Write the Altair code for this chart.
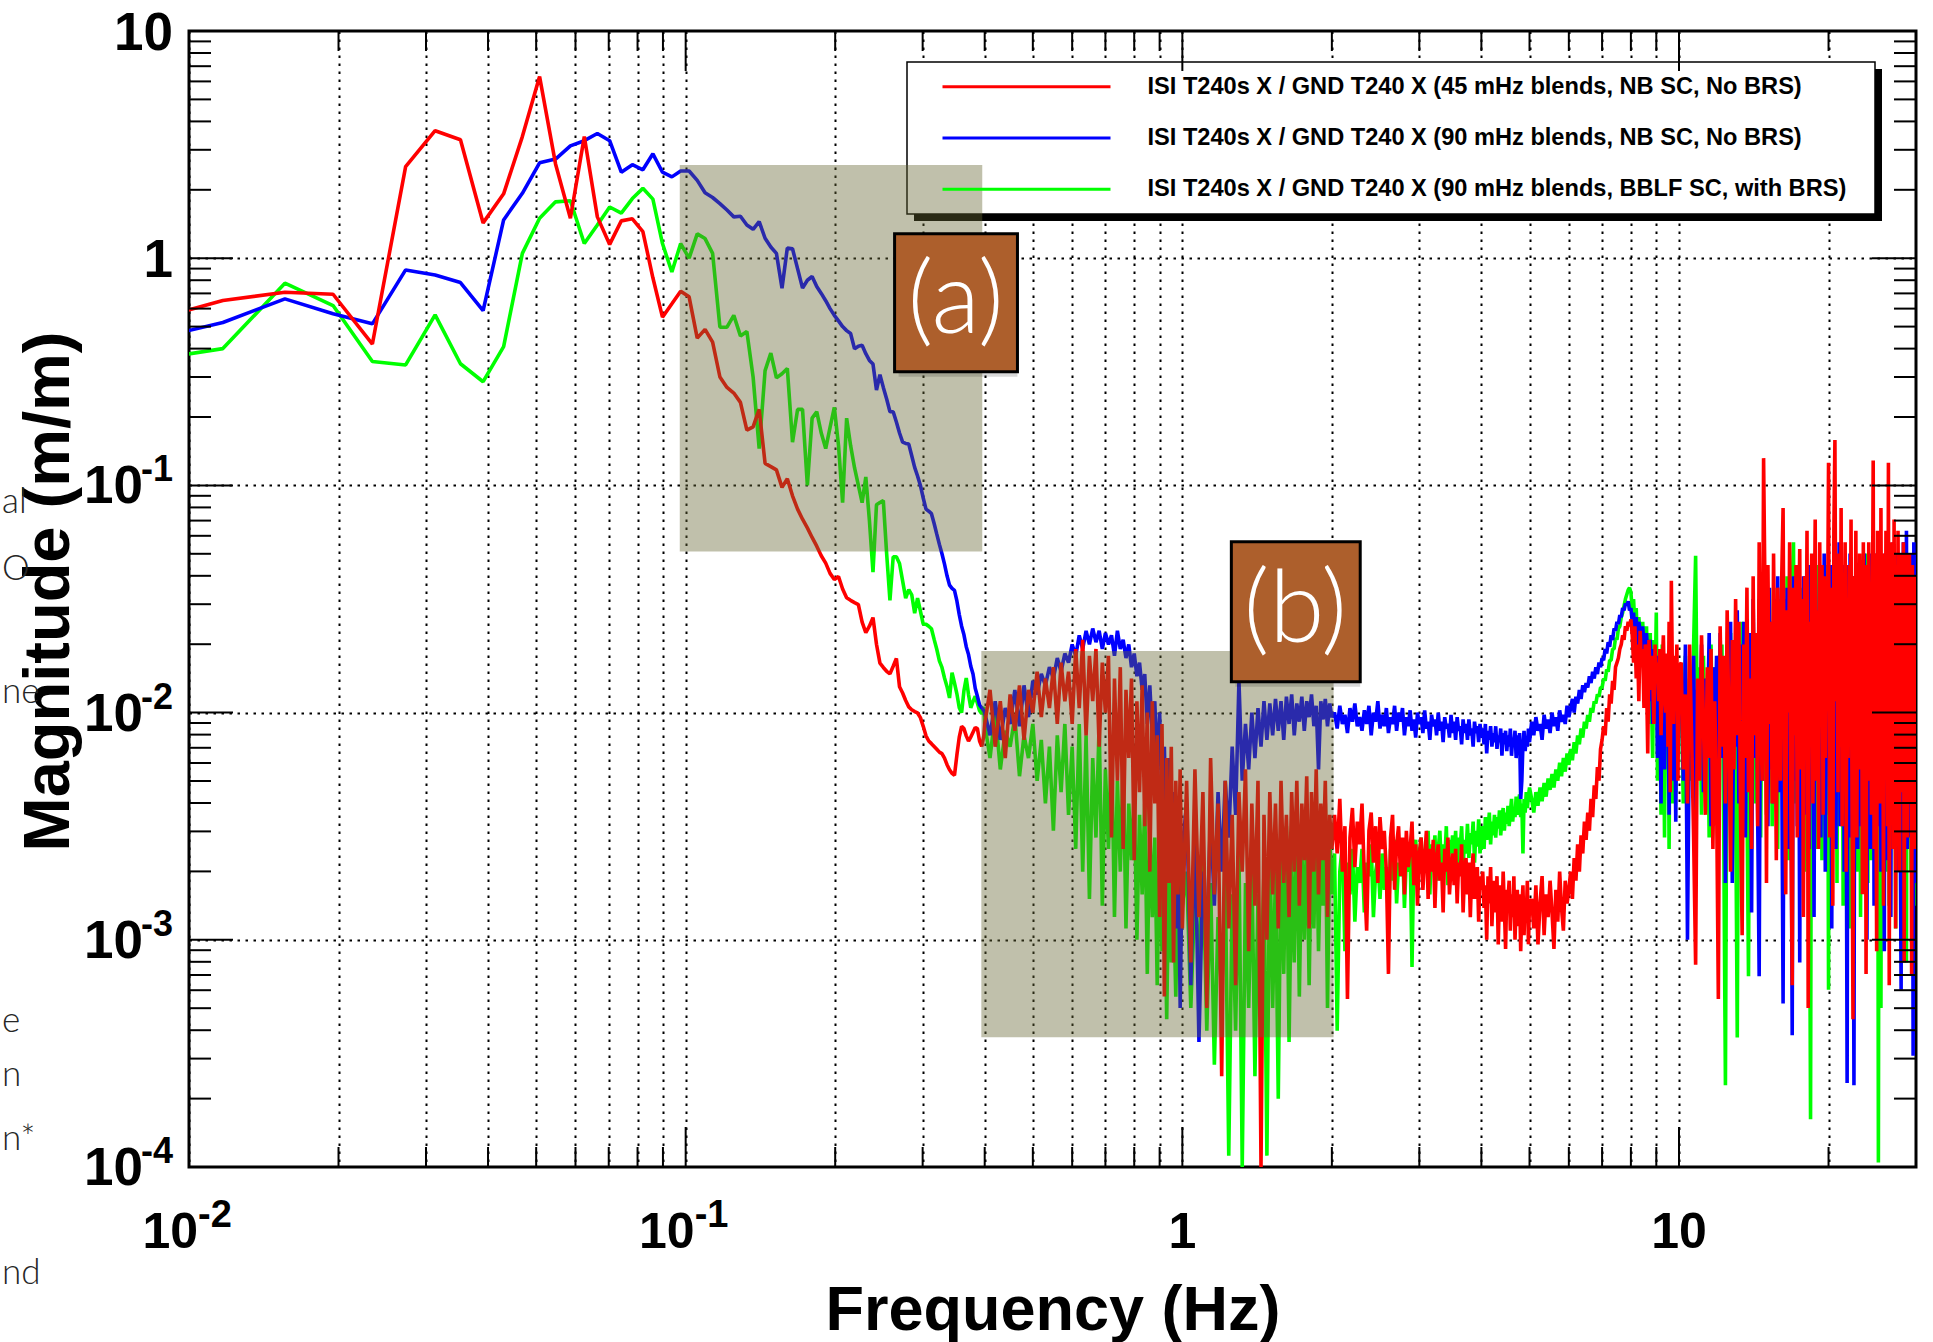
import altair as alt
import pandas as pd

W, H = 1727, 1136

# ---------------- data ----------------
series_names = [
    "ISI T240s X / GND T240 X (45 mHz blends, NB SC, No BRS)",
    "ISI T240s X / GND T240 X (90 mHz blends, NB SC, No BRS)",
    "ISI T240s X / GND T240 X (90 mHz blends, BBLF SC, with BRS)",
]
series_colors = ["#ff0000", "#0000ff", "#00ff00"]

# low-frequency part (resolved bins, Hz) and magnitudes (m/m)
freq_lo = [0.0078, 0.0117, 0.0156, 0.0195, 0.0234, 0.0273, 0.0313, 0.0352, 0.0391, 0.0430,
           0.0469, 0.0508, 0.0547, 0.0586, 0.0625, 0.0664, 0.0703, 0.0742, 0.0781, 0.0820,
           0.0859, 0.0898, 0.0938, 0.0977, 0.1016, 0.1055, 0.1094, 0.1133, 0.1172, 0.1211,
           0.1250, 0.1289, 0.1328, 0.1367, 0.1406, 0.1445, 0.1484, 0.1523, 0.1563, 0.1602,
           0.1641, 0.1680, 0.1719, 0.1758, 0.1797, 0.1836, 0.1875, 0.1914, 0.1953, 0.1992,
           0.2031, 0.2070, 0.2109, 0.2148, 0.2188, 0.2227, 0.2266, 0.2305, 0.2344, 0.2383,
           0.2422, 0.2461, 0.2500, 0.2539, 0.2578, 0.2617, 0.2656, 0.2695, 0.2734, 0.2773,
           0.2813, 0.2852, 0.2891, 0.2930, 0.2969, 0.3008, 0.3047, 0.3086, 0.3125, 0.3164,
           0.3203, 0.3242, 0.3281, 0.3320, 0.3359, 0.3398, 0.3438, 0.3477, 0.3516, 0.3555,
           0.3594, 0.3633, 0.3672, 0.3711, 0.3750, 0.3789, 0.3828, 0.3867, 0.3906, 0.3945,
           0.3984]

red_lo = [0.511, 0.651, 0.708, 0.694, 0.419, 2.53, 3.64, 3.32, 1.43, 1.92,
          3.43, 6.3, 2.6, 1.5, 3.43, 1.52, 1.15, 1.46, 1.49, 1.31,
          0.82, 0.55, 0.63, 0.716, 0.676, 0.445, 0.486, 0.427, 0.30, 0.27,
          0.255, 0.232, 0.175, 0.181, 0.216, 0.125, 0.121, 0.117, 0.098, 0.107,
          0.09, 0.0786, 0.071, 0.065, 0.059, 0.054, 0.049, 0.0455, 0.041, 0.0385,
          0.0397, 0.035, 0.032, 0.0312, 0.0305, 0.0299, 0.025, 0.0225, 0.024, 0.0262,
          0.02, 0.0165, 0.0158, 0.0152, 0.0148, 0.016, 0.0173, 0.013, 0.0122, 0.0113,
          0.0106, 0.0103, 0.0101, 0.00996, 0.0095, 0.0087, 0.0079, 0.0075, 0.0073, 0.0071,
          0.0069, 0.0067, 0.0066, 0.0063, 0.0059, 0.0056, 0.0054, 0.0053, 0.0065, 0.0078,
          0.0087, 0.0085, 0.0079, 0.0075, 0.0078, 0.0082, 0.0086, 0.0085, 0.0075, 0.0071,
          0.0079]

blue_lo = [0.423, 0.521, 0.662, 0.569, 0.514, 0.888, 0.844, 0.781, 0.588, 1.474,
           1.93, 2.63, 2.73, 3.12, 3.29, 3.54, 3.29, 2.39, 2.58, 2.45,
           2.88, 2.39, 2.28, 2.42, 2.42, 2.2, 1.94, 1.85, 1.74, 1.63,
           1.52, 1.53, 1.40, 1.34, 1.45, 1.224, 1.12, 1.05, 0.738, 1.11,
           1.10, 0.9, 0.738, 0.80, 0.831, 0.75, 0.70, 0.65, 0.60, 0.56,
           0.53, 0.50, 0.48, 0.466, 0.399, 0.41, 0.4135, 0.38, 0.355, 0.342,
           0.263, 0.307, 0.27, 0.24, 0.211, 0.211, 0.19, 0.17, 0.155, 0.153,
           0.152, 0.135, 0.12, 0.11, 0.10, 0.088, 0.0786, 0.077, 0.0751, 0.068,
           0.061, 0.055, 0.05, 0.045, 0.04, 0.0364, 0.0352, 0.0345, 0.031, 0.027,
           0.024, 0.022, 0.0195, 0.018, 0.016, 0.0148, 0.0128, 0.0118, 0.0108, 0.0105,
           0.0102]

green_lo = [0.349, 0.400, 0.776, 0.619, 0.351, 0.339, 0.563, 0.343, 0.286, 0.408,
            1.05, 1.50, 1.77, 1.79, 1.16, 1.40, 1.68, 1.58, 1.83, 2.03,
            1.82, 1.16, 0.869, 1.16, 1.0, 1.28, 1.22, 1.05, 0.497, 0.497,
            0.56, 0.455, 0.476, 0.30, 0.1453, 0.32, 0.382, 0.2973, 0.31, 0.327,
            0.155, 0.216, 0.216, 0.1, 0.1977, 0.211, 0.17, 0.1453, 0.18, 0.2205,
            0.15, 0.0839, 0.1977, 0.15, 0.1193, 0.10, 0.0839, 0.109, 0.07, 0.0415,
            0.0821, 0.084, 0.0857, 0.05, 0.0312, 0.0485, 0.0485, 0.0453, 0.038, 0.0319,
            0.0348, 0.033, 0.0274, 0.0319, 0.028, 0.0245, 0.0245, 0.024, 0.0234, 0.021,
            0.019, 0.0169, 0.0158, 0.0142, 0.013, 0.0116, 0.0150, 0.0135, 0.0121, 0.0105,
            0.0100, 0.0125, 0.0142, 0.012, 0.0105, 0.0112, 0.0118, 0.011, 0.0102, 0.0099,
            0.0106]

# ---- noisy part, in five frequency segments; magnitudes as log10 readings ----
freq_s1 = [0.40, 0.41, 0.42, 0.43, 0.44, 0.45, 0.46, 0.47, 0.48, 0.49,
           0.50, 0.51, 0.52, 0.53, 0.54, 0.55, 0.56, 0.57, 0.58, 0.59,
           0.60, 0.61, 0.62, 0.63, 0.64, 0.65, 0.66, 0.67, 0.68, 0.69,
           0.70, 0.71, 0.72, 0.73, 0.74, 0.75, 0.76, 0.77, 0.78, 0.79,
           0.80, 0.81, 0.82, 0.83, 0.84, 0.85, 0.86, 0.87, 0.88, 0.89,
           0.90, 0.91, 0.92, 0.93, 0.94, 0.95, 0.96, 0.97, 0.98, 0.99,
           1.00]
freq_s2 = [1.02, 1.04, 1.06, 1.08, 1.10, 1.12, 1.14, 1.16, 1.18, 1.20,
           1.22, 1.24, 1.26, 1.28, 1.30, 1.32, 1.34, 1.36, 1.38, 1.40,
           1.42, 1.44, 1.46, 1.48, 1.50, 1.52, 1.54, 1.56, 1.58, 1.60,
           1.62, 1.64, 1.66, 1.68, 1.70, 1.72, 1.74, 1.76, 1.78, 1.80,
           1.82, 1.84, 1.86, 1.88, 1.90, 1.92, 1.94, 1.96, 1.98, 2.00]
freq_s3 = [2.025, 2.05, 2.075, 2.1, 2.125, 2.15, 2.175, 2.2, 2.225, 2.25,
           2.275, 2.3, 2.325, 2.35, 2.375, 2.4, 2.425, 2.45, 2.475, 2.5,
           2.525, 2.55, 2.575, 2.6, 2.625, 2.65, 2.675, 2.7, 2.725, 2.75,
           2.775, 2.8, 2.825, 2.85, 2.875, 2.9, 2.925, 2.95, 2.975, 3.0,
           3.025, 3.05, 3.075, 3.1, 3.125, 3.15, 3.175, 3.2, 3.225, 3.25,
           3.275, 3.3, 3.325, 3.35, 3.375, 3.4, 3.425, 3.45, 3.475, 3.5,
           3.525, 3.55, 3.575, 3.6, 3.625, 3.65, 3.675, 3.7, 3.725, 3.75,
           3.775, 3.8, 3.825, 3.85, 3.875, 3.9, 3.925, 3.95, 3.975, 4.0,
           4.025, 4.05, 4.075, 4.1, 4.125, 4.15, 4.175, 4.2, 4.225, 4.25,
           4.275, 4.3, 4.325, 4.35, 4.375, 4.4, 4.425, 4.45, 4.475, 4.5,
           4.525, 4.55, 4.575, 4.6, 4.625, 4.65, 4.675, 4.7, 4.725, 4.75,
           4.775, 4.8, 4.825, 4.85, 4.875, 4.9, 4.925, 4.95, 4.975, 5.0]
freq_s4 = [5.05, 5.1, 5.15, 5.2, 5.25, 5.3, 5.35, 5.4, 5.45, 5.5,
           5.55, 5.6, 5.65, 5.7, 5.75, 5.8, 5.85, 5.9, 5.95, 6.0,
           6.05, 6.1, 6.15, 6.2, 6.25, 6.3, 6.35, 6.4, 6.45, 6.5,
           6.55, 6.6, 6.65, 6.7, 6.75, 6.8, 6.85, 6.9, 6.95, 7.0,
           7.05, 7.1, 7.15, 7.2, 7.25, 7.3, 7.35, 7.4, 7.45, 7.5,
           7.55, 7.6, 7.65, 7.7, 7.75, 7.8, 7.85, 7.9, 7.95, 8.0,
           8.05, 8.1, 8.15, 8.2, 8.25, 8.3, 8.35, 8.4, 8.45, 8.5,
           8.55, 8.6, 8.65, 8.7, 8.75, 8.8, 8.85, 8.9, 8.95, 9.0,
           9.05, 9.1, 9.15, 9.2, 9.25, 9.3, 9.35, 9.4, 9.45, 9.5,
           9.55, 9.6, 9.65, 9.7, 9.75, 9.8, 9.85, 9.9, 9.95, 10.0]
freq_s5 = [10.1, 10.2, 10.3, 10.4, 10.5, 10.6, 10.7, 10.8, 10.9, 11.0,
           11.1, 11.2, 11.3, 11.4, 11.5, 11.6, 11.7, 11.8, 11.9, 12.0,
           12.1, 12.2, 12.3, 12.4, 12.5, 12.6, 12.7, 12.8, 12.9, 13.0,
           13.1, 13.2, 13.3, 13.4, 13.5, 13.6, 13.7, 13.8, 13.9, 14.0,
           14.1, 14.2, 14.3, 14.4, 14.5, 14.6, 14.7, 14.8, 14.9, 15.0,
           15.1, 15.2, 15.3, 15.4, 15.5, 15.6, 15.7, 15.8, 15.9, 16.0,
           16.1, 16.2, 16.3, 16.4, 16.5, 16.6, 16.7, 16.8, 16.9, 17.0,
           17.1, 17.2, 17.3, 17.4, 17.5, 17.6, 17.7, 17.8, 17.9, 18.0,
           18.1, 18.2, 18.3, 18.4, 18.5, 18.6, 18.7, 18.8, 18.9, 19.0,
           19.1, 19.2, 19.3, 19.4, 19.5, 19.6, 19.7, 19.8, 19.9, 20.0,
           20.1, 20.2, 20.3, 20.4, 20.5, 20.6, 20.7, 20.8, 20.9, 21.0,
           21.1, 21.2, 21.3, 21.4, 21.5, 21.6, 21.7, 21.8, 21.9, 22.0,
           22.1, 22.2, 22.3, 22.4, 22.5, 22.6, 22.7, 22.8, 22.9, 23.0,
           23.1, 23.2, 23.3, 23.4, 23.5, 23.6, 23.7, 23.8, 23.9, 24.0,
           24.1, 24.2, 24.3, 24.4, 24.5, 24.6, 24.7, 24.8, 24.9, 25.0,
           25.1, 25.2, 25.3, 25.4, 25.5, 25.6, 25.7, 25.8, 25.9, 26.0,
           26.1, 26.2, 26.3, 26.4, 26.5, 26.6, 26.7, 26.8, 26.9, 27.0,
           27.1, 27.2, 27.3, 27.4, 27.5, 27.6, 27.7, 27.8, 27.9, 28.0,
           28.1, 28.2, 28.3, 28.4, 28.5, 28.6, 28.7, 28.8, 28.9, 29.0,
           29.1, 29.2, 29.3, 29.4, 29.5, 29.6, 29.7, 29.8, 29.9, 30.0]

red_s1 = [-2.05, -1.90, -2.15, -1.95, -2.20, -1.92, -2.08, -1.88, -2.12, -1.90,
          -2.00, -1.82, -2.02, -1.85, -1.98, -1.80, -2.05, -1.78, -1.95, -1.82,
          -2.05, -1.72, -1.98, -1.68, -2.10, -1.75, -1.95, -1.72, -2.15, -1.78,
          -2.00, -1.75, -2.55, -1.85, -2.30, -1.80, -2.60, -1.90, -2.20, -1.85,
          -2.65, -1.95, -2.35, -1.88, -2.50, -2.00, -2.70, -1.95, -2.40, -2.10,
          -2.90, -2.05, -3.25, -2.20, -2.75, -2.15, -3.10, -2.30, -2.80, -2.25,
          -2.95]
red_s2 = [-2.30, -3.10, -2.25, -2.90, -2.35, -3.30, -2.20, -2.80, -2.40, -3.60,
          -2.30, -2.95, -2.45, -3.20, -2.35, -2.70, -2.25, -3.05, -2.40, -2.85,
          -2.30, -4.00, -2.45, -3.00, -2.35, -2.80, -2.40, -2.95, -2.30, -2.75,
          -2.45, -2.90, -2.35, -2.70, -2.30, -2.85, -2.40, -2.65, -2.28, -2.95,
          -2.35, -2.70, -2.25, -2.80, -2.40, -2.65, -2.30, -2.90, -2.45, -2.60]
red_s3 = [-2.45, -2.62, -2.38, -2.70, -2.50, -3.26, -2.55, -2.42, -2.68, -2.48,
          -2.58, -2.40, -2.72, -2.96, -2.52, -2.44, -2.66, -2.50, -2.75, -2.46,
          -2.60, -2.52, -2.70, -3.15, -2.55, -2.45, -2.78, -2.58, -2.50, -2.72,
          -2.55, -2.80, -2.52, -2.68, -2.60, -2.48, -2.76, -2.58, -2.85, -2.62,
          -2.55, -2.78, -2.64, -2.52, -2.82, -2.60, -2.70, -2.56, -2.86, -2.64,
          -2.58, -2.74, -2.66, -2.88, -2.60, -2.70, -2.55, -2.80, -2.68, -2.62,
          -2.76, -2.60, -2.84, -2.66, -2.72, -2.58, -2.88, -2.70, -2.64, -2.80,
          -2.66, -2.90, -2.70, -2.62, -2.82, -2.74, -2.68, -2.92, -2.72, -2.78,
          -2.70, -2.86, -2.76, -3.00, -2.72, -2.84, -2.68, -2.94, -2.78, -2.74,
          -2.88, -2.72, -3.02, -2.80, -2.76, -2.92, -2.70, -2.86, -3.04, -2.78,
          -2.82, -2.74, -2.96, -2.80, -2.90, -2.72, -3.00, -2.84, -2.78, -2.94,
          -2.80, -3.05, -2.86, -2.76, -2.98, -2.82, -2.90, -2.74, -3.02, -2.84]
red_s4 = [-2.82, -2.95, -2.76, -3.02, -2.84, -2.72, -2.98, -2.80, -2.90, -2.74,
          -2.88, -3.04, -2.78, -2.92, -2.70, -2.86, -2.96, -2.74, -2.84, -2.78,
          -2.70, -2.82, -2.64, -2.74, -2.58, -2.70, -2.54, -2.62, -2.48, -2.56,
          -2.44, -2.52, -2.38, -2.46, -2.32, -2.38, -2.24, -2.30, -2.16, -2.12,
          -2.06, -2.10, -1.98, -2.04, -1.92, -1.96, -1.86, -1.90, -1.80, -1.78,
          -1.76, -1.72, -1.70, -1.66, -1.68, -1.62, -1.64, -1.60, -1.62, -1.59,
          -1.66, -1.78, -1.62, -1.85, -1.70, -1.95, -1.64, -1.80, -1.72, -1.98,
          -1.70, -1.84, -2.18, -1.68, -1.90, -1.75, -1.82, -2.05, -1.70, -1.86,
          -1.78, -1.95, -1.72, -2.10, -1.80, -1.66, -1.92, -2.00, -1.74, -2.15,
          -1.60, -2.35, -1.42, -1.85, -2.05, -1.75, -1.95, -1.70, -2.30, -1.80]
red_s5 = [-1.78, -2.25, -1.92, -2.40, -1.70, -2.10, -2.55, -3.11, -1.85, -2.30,
          -1.66, -2.05, -2.45, -1.80, -2.20, -1.72, -2.60, -1.95, -2.35, -3.26,
          -1.62, -2.15, -1.75, -2.40, -1.55, -2.05, -2.70, -1.68, -2.25, -1.50,
          -2.10, -1.60, -2.45, -2.98, -1.70, -2.20, -1.45, -2.35, -1.85, -2.60,
          -1.40, -2.10, -1.65, -2.50, -1.25, -1.95, -2.30, -0.88, -1.50, -2.75,
          -1.35, -2.05, -1.60, -2.40, -1.30, -1.95, -2.65, -1.45, -1.80, -2.30,
          -1.40, -1.10, -2.20, -2.80, -1.55, -2.00, -1.25, -2.45, -3.20, -1.45,
          -2.10, -1.35, -2.55, -1.70, -1.28, -2.25, -1.50, -2.90, -1.40, -2.05,
          -1.20, -3.30, -1.60, -2.15, -1.30, -2.40, -1.75, -1.15, -2.30, -1.55,
          -2.60, -1.25, -1.90, -1.35, -2.45, -1.40, -2.20, -1.55, -1.70, -0.90,
          -2.55, -2.10, -1.45, -2.85, -1.20, -0.80, -1.95, -1.60, -2.35, -1.30,
          -2.15, -1.10, -2.50, -1.45, -1.90, -1.25, -2.70, -1.50, -2.20, -1.35,
          -1.95, -1.15, -2.40, -3.35, -1.40, -2.05, -1.20, -2.55, -1.60, -2.25,
          -1.30, -2.00, -1.50, -2.80, -1.25, -2.15, -1.45, -3.15, -1.35, -2.30,
          -1.25, -1.95, -1.55, -2.45, -1.70, -0.89, -2.60, -1.30, -2.10, -3.05,
          -1.20, -1.90, -1.45, -2.40, -1.10, -2.15, -1.60, -2.85, -1.30, -2.00,
          -1.20, -1.75, -2.50, -0.90, -3.20, -1.50, -1.25, -2.05, -1.35, -2.60,
          -1.15, -1.95, -2.95, -1.40, -2.20, -1.20, -1.85, -2.70, -1.30, -2.10,
          -1.45, -2.35, -1.25, -3.10, -1.60, -2.00, -1.30, -2.55, -1.50, -2.15,
          -1.30, -2.40, -1.45, -3.15, -1.35, -2.05, -1.55, -2.60, -1.40, -2.25]

blue_s1 = [-2.00, -2.10, -1.95, -2.12, -1.98, -2.05, -1.90, -2.06, -1.88, -2.02,
           -1.86, -1.92, -1.83, -1.88, -1.80, -1.85, -1.76, -1.82, -1.74, -1.78,
           -1.70, -1.75, -1.66, -1.72, -1.64, -1.70, -1.63, -1.69, -1.64, -1.72,
           -1.65, -1.70, -1.66, -1.75, -1.64, -1.72, -1.68, -1.76, -1.70, -1.80,
           -1.74, -1.84, -1.78, -1.90, -1.83, -2.05, -1.88, -2.10, -1.95, -2.25,
           -2.00, -2.40, -2.15, -2.60, -2.20, -2.75, -2.35, -2.95, -2.45, -3.30,
           -2.60]
blue_s2 = [-2.40, -3.20, -2.50, -3.45, -2.70, -3.00, -2.45, -2.85, -2.35, -2.70,
           -2.30, -2.55, -2.15, -2.45, -1.86, -2.30, -2.05, -2.25, -2.00, -2.20,
           -1.98, -2.15, -1.95, -2.12, -1.96, -2.10, -1.94, -2.08, -1.95, -2.12,
           -1.93, -2.05, -1.92, -2.10, -1.96, -2.04, -1.93, -2.08, -1.95, -2.02,
           -1.92, -2.06, -1.97, -2.25, -1.95, -2.03, -1.94, -2.06, -1.96, -2.02]
blue_s3 = [-2.00, -2.07, -1.97, -2.05, -2.01, -2.09, -1.98, -2.04, -1.96, -2.06,
           -2.02, -2.08, -1.99, -2.05, -1.97, -2.10, -2.00, -2.04, -1.95, -2.07,
           -2.01, -2.06, -1.98, -2.09, -2.02, -2.05, -1.97, -2.08, -2.00, -2.04,
           -1.98, -2.10, -2.02, -2.06, -1.99, -2.08, -2.03, -2.11, -2.00, -2.05,
           -2.02, -2.09, -1.99, -2.07, -2.04, -2.12, -2.01, -2.06, -2.03, -2.10,
           -2.00, -2.08, -2.04, -2.13, -2.02, -2.07, -2.05, -2.11, -2.01, -2.09,
           -2.04, -2.12, -2.02, -2.08, -2.06, -2.14, -2.03, -2.09, -2.05, -2.12,
           -2.03, -2.10, -2.07, -2.15, -2.04, -2.09, -2.06, -2.13, -2.05, -2.11,
           -2.07, -2.14, -2.05, -2.18, -2.08, -2.12, -2.06, -2.15, -2.09, -2.13,
           -2.06, -2.16, -2.10, -2.13, -2.07, -2.19, -2.09, -2.14, -2.08, -2.17,
           -2.10, -2.15, -2.07, -2.19, -2.11, -2.14, -2.08, -2.20, -2.10, -2.16,
           -2.09, -2.38, -2.30, -2.14, -2.08, -2.17, -2.11, -2.15, -2.07, -2.13]
blue_s4 = [-2.04, -2.10, -2.02, -2.08, -2.05, -2.12, -2.01, -2.07, -2.03, -2.09,
           -2.00, -2.06, -2.02, -2.08, -1.99, -2.04, -2.01, -2.05, -1.97, -2.02,
           -1.98, -1.94, -2.00, -1.93, -1.96, -1.90, -1.94, -1.88, -1.91, -1.87,
           -1.89, -1.84, -1.87, -1.82, -1.85, -1.80, -1.83, -1.78, -1.80, -1.76,
           -1.77, -1.72, -1.74, -1.69, -1.71, -1.66, -1.68, -1.63, -1.64, -1.60,
           -1.61, -1.57, -1.58, -1.54, -1.55, -1.52, -1.53, -1.51, -1.55, -1.54,
           -1.60, -1.56, -1.66, -1.58, -1.72, -1.60, -1.64, -1.78, -1.62, -1.70,
           -1.85, -1.65, -1.75, -1.95, -1.68, -1.80, -2.05, -1.72, -1.90, -1.75,
           -2.20, -1.78, -1.95, -2.40, -1.74, -1.88, -2.25, -1.80, -2.10, -1.76,
           -2.45, -1.85, -2.00, -2.30, -1.82, -1.95, -2.48, -1.86, -2.10, -1.90]
blue_s5 = [-1.85, -2.30, -1.70, -3.00, -1.95, -2.20, -1.75, -2.45, -1.90, -2.15,
           -1.70, -2.35, -1.85, -2.10, -1.65, -2.50, -1.80, -2.25, -1.75, -2.40,
           -1.65, -2.20, -1.80, -2.75, -1.70, -2.30, -1.60, -2.75, -1.85, -2.15,
           -1.55, -2.40, -1.70, -2.25, -1.60, -2.55, -1.75, -2.30, -1.65, -2.88,
           -1.50, -2.20, -1.65, -2.45, -3.16, -1.55, -2.30, -1.45, -2.15, -1.60,
           -2.50, -1.45, -2.25, -1.60, -2.40, -1.50, -2.10, -1.40, -2.35, -1.55,
           -2.20, -3.28, -1.50, -2.35, -1.45, -2.60, -1.55, -2.15, -3.42, -1.40,
           -2.30, -1.55, -2.50, -1.45, -3.10, -1.60, -2.20, -1.40, -2.45, -1.50,
           -2.25, -1.35, -2.60, -1.50, -2.15, -1.45, -2.90, -1.40, -2.30, -1.55,
           -2.10, -1.35, -2.55, -1.45, -2.30, -1.30, -2.70, -1.50, -2.20, -1.40,
           -2.45, -1.35, -2.95, -1.45, -2.20, -1.30, -2.60, -1.40, -2.35, -1.25,
           -2.50, -1.40, -2.25, -1.35, -2.70, -1.45, -2.15, -3.63, -1.35, -2.40,
           -1.30, -2.55, -1.45, -2.20, -3.64, -1.40, -2.35, -1.34, -2.60, -1.45,
           -2.25, -1.35, -2.50, -1.40, -2.75, -1.30, -2.20, -1.45, -3.00, -1.35,
           -2.40, -1.30, -2.60, -1.45, -2.25, -1.35, -2.85, -1.40, -2.15, -1.30,
           -2.50, -1.25, -2.35, -1.40, -2.70, -1.35, -2.20, -1.45, -3.05, -1.30,
           -2.45, -1.35, -2.65, -1.30, -2.25, -1.45, -2.90, -1.35, -2.40, -1.25,
           -2.55, -1.35, -2.20, -1.30, -2.70, -1.40, -2.35, -1.30, -2.60, -3.22,
           -1.30, -2.45, -1.25, -2.80, -1.35, -2.25, -1.20, -2.60, -1.40, -2.30,
           -1.35, -2.55, -1.30, -2.20, -1.45, -3.51, -1.25, -2.40, -1.30, -2.75]

green_s1 = [-2.05, -2.20, -2.00, -2.25, -2.08, -2.15, -2.02, -2.28, -2.10, -2.20,
            -2.05, -2.30, -2.12, -2.40, -2.15, -2.52, -2.10, -2.35, -2.05, -2.45,
            -2.15, -2.60, -2.05, -2.70, -2.10, -2.82, -2.20, -2.55, -2.05, -2.85,
            -2.25, -2.60, -2.10, -2.90, -2.30, -2.70, -2.20, -2.95, -2.40, -2.65,
            -2.35, -3.00, -2.45, -2.80, -2.40, -3.15, -2.50, -2.90, -2.55, -3.20,
            -2.60, -3.05, -2.70, -3.35, -2.65, -3.10, -2.80, -3.25, -2.75, -3.00,
            -2.85]
green_s2 = [-2.70, -3.30, -2.80, -3.10, -2.65, -3.40, -2.75, -3.55, -2.90, -3.25,
            -2.70, -3.95, -2.80, -3.40, -2.60, -4.00, -2.75, -3.30, -2.65, -3.60,
            -2.80, -3.20, -2.70, -3.95, -2.55, -3.30, -2.70, -3.70, -2.60, -3.15,
            -2.50, -3.45, -2.65, -3.10, -2.45, -3.25, -2.60, -3.00, -2.50, -3.20,
            -2.55, -2.95, -2.45, -3.05, -2.60, -2.85, -2.40, -3.30, -2.55, -2.80]
green_s3 = [-2.62, -3.40, -2.70, -2.58, -3.05, -2.66, -2.80, -2.60, -2.92, -2.68,
            -2.75, -2.60, -2.88, -2.66, -2.72, -2.58, -2.90, -2.70, -2.64, -2.82,
            -2.62, -2.78, -2.68, -2.92, -2.60, -2.74, -2.56, -2.84, -2.66, -2.72,
            -2.58, -2.86, -2.64, -2.70, -2.60, -3.12, -2.62, -2.56, -2.76, -2.64,
            -2.55, -2.72, -2.60, -2.66, -2.52, -2.80, -2.58, -2.64, -2.54, -2.74,
            -2.60, -2.52, -2.70, -2.58, -2.66, -2.50, -2.76, -2.56, -2.62, -2.54,
            -2.64, -2.52, -2.70, -2.55, -2.60, -2.50, -2.68, -2.56, -2.62, -2.49,
            -2.64, -2.53, -2.58, -2.48, -2.66, -2.52, -2.59, -2.47, -2.62, -2.54,
            -2.50, -2.60, -2.46, -2.56, -2.52, -2.44, -2.58, -2.48, -2.54, -2.45,
            -2.55, -2.46, -2.51, -2.43, -2.54, -2.47, -2.42, -2.52, -2.44, -2.49,
            -2.41, -2.50, -2.44, -2.38, -2.48, -2.42, -2.46, -2.37, -2.45, -2.40,
            -2.36, -2.46, -2.40, -2.62, -2.38, -2.44, -2.35, -2.42, -2.37, -2.33]
green_s4 = [-2.38, -2.44, -2.35, -2.41, -2.33, -2.39, -2.31, -2.37, -2.29, -2.34,
            -2.27, -2.33, -2.25, -2.30, -2.22, -2.28, -2.20, -2.26, -2.18, -2.23,
            -2.16, -2.21, -2.13, -2.18, -2.10, -2.14, -2.07, -2.11, -2.04, -2.07,
            -2.01, -2.04, -1.98, -2.00, -1.95, -1.96, -1.92, -1.93, -1.89, -1.89,
            -1.85, -1.86, -1.81, -1.82, -1.77, -1.77, -1.72, -1.72, -1.67, -1.68,
            -1.63, -1.62, -1.58, -1.56, -1.53, -1.50, -1.48, -1.46, -1.45, -1.47,
            -1.55, -1.50, -1.62, -1.54, -1.70, -1.58, -1.66, -1.80, -1.60, -1.75,
            -1.90, -1.62, -1.85, -2.05, -1.65, -1.95, -2.20, -1.68, -1.90, -1.56,
            -2.30, -1.72, -2.00, -2.45, -1.70, -1.92, -2.55, -1.75, -2.10, -1.80,
            -2.60, -1.78, -2.05, -2.40, -1.85, -2.00, -2.35, -1.82, -2.15, -1.95]
green_s5 = [-1.90, -2.40, -1.75, -2.60, -1.85, -2.30, -1.70, -1.31, -2.20, -1.80,
            -2.45, -1.75, -2.30, -1.85, -2.55, -1.70, -2.25, -1.80, -2.40, -1.75,
            -2.20, -1.70, -2.50, -3.64, -1.75, -2.30, -1.65, -2.45, -1.80, -2.35,
            -3.43, -1.70, -2.25, -1.60, -2.50, -1.75, -2.35, -3.16, -1.65, -2.20,
            -1.55, -2.40, -1.70, -2.25, -1.50, -2.55, -1.65, -2.30, -1.55, -2.45,
            -1.50, -2.20, -1.60, -2.50, -1.45, -2.35, -1.55, -2.60, -1.50, -2.25,
            -1.45, -2.40, -1.55, -2.20, -1.40, -2.65, -1.50, -2.30, -1.45, -1.25,
            -2.40, -1.50, -2.25, -1.40, -2.55, -1.45, -2.30, -1.55, -2.70, -1.40,
            -2.35, -1.45, -2.50, -3.79, -1.40, -2.25, -1.50, -2.60, -1.35, -2.30,
            -1.45, -2.45, -1.40, -2.65, -1.50, -2.30, -1.35, -2.55, -1.45, -3.22,
            -1.40, -2.40, -1.35, -2.60, -1.45, -2.25, -1.40, -2.75, -1.35, -2.45,
            -1.45, -2.30, -1.40, -2.85, -1.35, -2.50, -1.45, -2.35, -1.40, -2.95,
            -1.35, -2.40, -1.45, -2.60, -1.40, -2.30, -1.35, -2.70, -1.45, -2.50,
            -1.40, -2.90, -1.35, -2.45, -1.45, -2.60, -1.40, -2.35, -1.30, -2.75,
            -1.40, -2.50, -1.35, -2.65, -1.45, -2.40, -1.35, -2.80, -1.40, -2.55,
            -1.35, -3.98, -1.40, -2.45, -3.30, -1.45, -2.60, -1.35, -2.40, -1.45,
            -2.70, -1.35, -2.50, -1.40, -2.85, -1.45, -2.35, -1.35, -2.60, -1.40,
            -2.45, -1.35, -2.95, -1.45, -2.40, -1.40, -2.65, -1.35, -2.50, -1.45,
            -2.80, -1.40, -2.35, -1.35, -2.60, -1.45, -3.10, -1.40, -2.45, -1.50,
            -2.55, -1.40, -2.70, -1.45, -2.40, -1.50, -2.85, -1.40, -2.60, -1.50]

# shaded highlight regions (Hz, m/m)
shade_f0 = [0.0973, 0.3938]
shade_f1 = [0.3955, 2.016]
shade_m0 = [0.0512, 0.000372]
shade_m1 = [2.573, 0.01868]

# "(a)" / "(b)" tag boxes
tag_text = ["(a)", "(b)"]
tag_f0 = [0.2634, 1.255]
tag_f1 = [0.4656, 2.281]
tag_m0 = [0.316, 0.01368]
tag_m1 = [1.28, 0.0565]
tag_fc = [0.3497, 1.688]
tag_mc = [0.636, 0.0278]

# axis tick values and labels
x_major = [0.01, 0.1, 1, 10]
x_minor = [0.02, 0.03, 0.04, 0.05, 0.06, 0.07, 0.08, 0.09,
           0.2, 0.3, 0.4, 0.5, 0.6, 0.7, 0.8, 0.9,
           2, 3, 4, 5, 6, 7, 8, 9, 20]
y_major = [0.0001, 0.001, 0.01, 0.1, 1, 10]
y_minor = [0.0002, 0.0003, 0.0004, 0.0005, 0.0006, 0.0007, 0.0008, 0.0009,
           0.002, 0.003, 0.004, 0.005, 0.006, 0.007, 0.008, 0.009,
           0.02, 0.03, 0.04, 0.05, 0.06, 0.07, 0.08, 0.09,
           0.2, 0.3, 0.4, 0.5, 0.6, 0.7, 0.8, 0.9,
           2, 3, 4, 5, 6, 7, 8, 9]
x_lab_val = [0.01, 0.1, 1, 10]
x_lab_base = ["10", "10", "1", "10"]
x_lab_exp = ["-2", "-1", "", ""]
y_lab_val = [10, 1, 0.1, 0.01, 0.001, 0.0001]
y_lab_base = ["10", "1", "10", "10", "10", "10"]
y_lab_exp = ["", "", "-1", "-2", "-3", "-4"]

# words of neighbouring page text at the left edge
frag_text = ["al", "O", "ne", "e", "n", "n*", "nd"]

# ---------------- tables ----------------
freq_hi = freq_s1 + freq_s2 + freq_s3 + freq_s4 + freq_s5
red_hi = red_s1 + red_s2 + red_s3 + red_s4 + red_s5
blue_hi = blue_s1 + blue_s2 + blue_s3 + blue_s4 + blue_s5
green_hi = green_s1 + green_s2 + green_s3 + green_s4 + green_s5
assert len(freq_lo) == len(red_lo) == len(blue_lo) == len(green_lo)
assert len(freq_hi) == len(red_hi) == len(blue_hi) == len(green_hi), (
    len(freq_hi), len(red_hi), len(blue_hi), len(green_hi))

rows = []
for name, lo, hi in zip(series_names, [red_lo, blue_lo, green_lo], [red_hi, blue_hi, green_hi]):
    for f, m in zip(freq_lo, lo):
        rows.append({"freq": f, "mag": m, "series": name})
    for f, v in zip(freq_hi, hi):
        rows.append({"freq": f, "mag": 10 ** v, "series": name})
df = pd.DataFrame(rows)

shade_df = pd.DataFrame({"f0": shade_f0, "f1": shade_f1, "m0": shade_m0, "m1": shade_m1})
tag_df = pd.DataFrame({"t": tag_text, "f0": tag_f0, "f1": tag_f1, "m0": tag_m0, "m1": tag_m1,
                       "fc": tag_fc, "mc": tag_mc})
xl_df = pd.DataFrame({"v": x_lab_val, "base": x_lab_base, "exp": x_lab_exp})
yl_df = pd.DataFrame({"v": y_lab_val, "base": y_lab_base, "exp": y_lab_exp})
one = pd.DataFrame({"k": [0]})

FONT = "Liberation Sans"
xs = alt.Scale(type="log", domain=[0.01, 30], nice=False)
ys = alt.Scale(type="log", domain=[0.0001, 10], nice=False)
cs = alt.Scale(domain=series_names, range=series_colors)

xaxis = alt.Axis(values=x_minor + x_major, grid=True, gridColor="black", gridDash=[2.5, 5.5],
                 gridWidth=2, gridOpacity=1, ticks=False, labels=False, domain=False,
                 title="Frequency (Hz)", titleFont=FONT, titleFontSize=63, titleFontWeight="bold",
                 titleColor="black", titleBaseline="alphabetic", titleY=162)
yaxis = alt.Axis(values=[0.001, 0.01, 0.1, 1], grid=True, gridColor="black", gridDash=[2.5, 5.5],
                 gridWidth=2, gridOpacity=1, ticks=False, labels=False, domain=False,
                 title="Magnitude (m/m)", titleFont=FONT, titleFontSize=65, titleFontWeight="bold",
                 titleColor="black", titleBaseline="alphabetic", titleX=-121, titleY=H / 2 - 8)


def X(field):
    return alt.X(field, scale=xs, axis=xaxis)


def Y(field):
    return alt.Y(field, scale=ys, axis=yaxis)


legend = alt.Legend(title=None, orient="none", legendX=718, legendY=31, padding=12.7,
                    rowPadding=27.3, symbolType="M0,0H16", symbolSize=441, symbolStrokeWidth=3,
                    symbolOffset=10.8, labelOffset=193, labelFont=FONT, labelFontWeight="bold",
                    labelFontSize=23.6, labelColor="black", labelLimit=1200, zindex=1)

# legend frame and its hard shadow (pixel placement)
leg_shadow = alt.Chart(one).mark_rect(fill="black").encode(
    x=alt.value(725), x2=alt.value(1693), y=alt.value(38), y2=alt.value(190))
leg_box = alt.Chart(one).mark_rect(fill="white", stroke="black", strokeWidth=1.5).encode(
    x=alt.value(718), x2=alt.value(1686), y=alt.value(31), y2=alt.value(183))


def line(i):
    return alt.Chart(df).transform_filter(alt.datum.series == series_names[i]).mark_line(
        strokeWidth=3.6, clip=True, strokeJoin="bevel").encode(
        x=X("freq:Q"), y=Y("mag:Q"),
        color=alt.Color("series:N", scale=cs, legend=legend))


shade = alt.Chart(shade_df).mark_rect(color="#666633", opacity=0.41).encode(
    x=X("f0:Q"), x2="f1:Q", y=Y("m0:Q"), y2="m1:Q")
tag_shadow = alt.Chart(tag_df).mark_rect(color="black", opacity=0.15, xOffset=4, yOffset=5).encode(
    x=X("f0:Q"), x2="f1:Q", y=Y("m0:Q"), y2="m1:Q")
tag_box = alt.Chart(tag_df).mark_rect(fill="#ad5f2c", stroke="black", strokeWidth=3).encode(
    x=X("f0:Q"), x2="f1:Q", y=Y("m0:Q"), y2="m1:Q")
tag_txt = alt.Chart(tag_df).mark_text(font="Lato", fontWeight=300, fontSize=100, color="white",
                                      align="center", baseline="middle").encode(
    x=X("fc:Q"), y=Y("mc:Q"), text="t:N")


# inward ticks on all four sides
def xticks(vals, y0, y1):
    return alt.Chart(pd.DataFrame({"v": vals})).mark_rule(color="black", strokeWidth=2).encode(
        x=X("v:Q"), y=alt.value(y0), y2=alt.value(y1))


def yticks(vals, x0, x1):
    return alt.Chart(pd.DataFrame({"v": vals})).mark_rule(color="black", strokeWidth=2).encode(
        y=Y("v:Q"), x=alt.value(x0), x2=alt.value(x1))


ticks = [xticks(x_major, H, H - 40), xticks(x_minor, H, H - 20),
         xticks(x_major, 0, 40), xticks(x_minor, 0, 20),
         yticks(y_major, 0, 44), yticks(y_minor, 0, 22),
         yticks(y_major, W, W - 44), yticks(y_minor, W, W - 22)]

# tick labels with superscript exponents
lab = dict(font=FONT, fontWeight="bold", color="black")
yl_plain = alt.Chart(yl_df).transform_filter(alt.datum.exp == "").mark_text(
    align="right", baseline="middle", fontSize=53, dy=3, **lab).encode(
    y=Y("v:Q"), x=alt.value(-16), text="base:N")
yl_base = alt.Chart(yl_df).transform_filter(alt.datum.exp != "").mark_text(
    align="right", baseline="middle", fontSize=53, dy=2, **lab).encode(
    y=Y("v:Q"), x=alt.value(-46), text="base:N")
yl_exp = alt.Chart(yl_df).transform_filter(alt.datum.exp != "").mark_text(
    align="right", baseline="middle", fontSize=36, dy=-15, **lab).encode(
    y=Y("v:Q"), x=alt.value(-16), text="exp:N")
xl_plain = alt.Chart(xl_df).transform_filter(alt.datum.exp == "").mark_text(
    align="center", baseline="alphabetic", fontSize=50, **lab).encode(
    x=X("v:Q"), y=alt.value(H + 81), text="base:N")
xl_base = alt.Chart(xl_df).transform_filter(alt.datum.exp != "").mark_text(
    align="right", baseline="alphabetic", fontSize=50, dx=9, **lab).encode(
    x=X("v:Q"), y=alt.value(H + 81), text="base:N")
xl_exp = alt.Chart(xl_df).transform_filter(alt.datum.exp != "").mark_text(
    align="left", baseline="alphabetic", fontSize=38, dx=9, **lab).encode(
    x=X("v:Q"), y=alt.value(H + 60), text="exp:N")

# neighbouring page-text words along the left border
frag_y = [482, 549, 672, 1001, 1055, 1119, 1253]
frags = [alt.Chart(one).mark_text(align="left", baseline="alphabetic", font="Lato", fontWeight=300,
                                  fontSize=35, color="#262626").encode(
    x=alt.value(-187), y=alt.value(py), text=alt.value(t)) for t, py in zip(frag_text, frag_y)]

chart = alt.layer(
    leg_shadow, leg_box, line(2), line(1), line(0), shade, tag_shadow, tag_box, tag_txt,
    *ticks, *frags, yl_plain, yl_base, yl_exp, xl_plain, xl_base, xl_exp
).properties(
    width=W, height=H,
    autosize=alt.AutoSizeParams(type="none"),
    padding={"left": 189, "top": 31, "right": 16, "bottom": 175},
    background="white",
).configure_view(stroke="black", strokeWidth=3)

chart.save("out.html", embed_options={"renderer": "svg", "actions": False})
